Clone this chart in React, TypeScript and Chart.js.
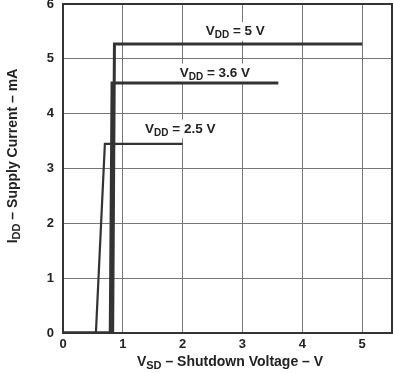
import React, { useEffect, useRef } from "react";
import { Chart, registerables } from "chart.js";

Chart.register(...registerables);

const xTicks = [0, 1, 2, 3, 4, 5];
const yTicks = [0, 1, 2, 3, 4, 5, 6];

const vsd25 = [0, 0.55, 0.7, 2.0];
const idd25 = [0, 0, 3.45, 3.45];
const vsd36 = [0, 0.79, 0.82, 3.6];
const idd36 = [0, 0, 4.56, 4.56];
const vsd50 = [0, 0.83, 0.86, 5.0];
const idd50 = [0, 0, 5.27, 5.27];

const seriesLabels = ["2.5 V", "3.6 V", "5 V"];
const labelX = [1.96, 2.54, 2.88];
const labelY = [3.72, 4.74, 5.5];

const FONT = "'Liberation Sans', Arial, sans-serif";

function drawSub(ctx: CanvasRenderingContext2D, parts: [string, boolean][], size: number, cx: number, cy: number, bg: boolean) {
  const subSize = Math.round(size * 0.75);
  let w = 0;
  for (const [t, sub] of parts) {
    ctx.font = `bold ${sub ? subSize : size}px ${FONT}`;
    w += ctx.measureText(t).width;
  }
  let x = cx - w / 2;
  if (bg) {
    ctx.fillStyle = "#ffffff";
    ctx.fillRect(x - 3, cy - size * 0.7, w + 6, size * 1.4);
  }
  ctx.fillStyle = "#222";
  ctx.textBaseline = "middle";
  ctx.textAlign = "left";
  for (const [t, sub] of parts) {
    ctx.font = `bold ${sub ? subSize : size}px ${FONT}`;
    ctx.fillText(t, x, sub ? cy + size * 0.3 : cy);
    x += ctx.measureText(t).width;
  }
}

const annotPlugin = {
  id: "annot",
  beforeDatasetsDraw(chart: any) {
    const { ctx, scales } = chart;
    ctx.save();
    for (let i = 0; i < seriesLabels.length; i++) {
      drawSub(ctx, [["V", false], ["DD", true], [" = " + seriesLabels[i], false]], 13.5,
        scales.x.getPixelForValue(labelX[i]), scales.y.getPixelForValue(labelY[i]), true);
    }
    ctx.restore();
  },
  afterDatasetsDraw(chart: any) {
    const { ctx, chartArea } = chart;
    ctx.save();
    ctx.strokeStyle = "#333";
    ctx.lineWidth = 2;
    ctx.strokeRect(chartArea.left, chartArea.top, chartArea.right - chartArea.left, chartArea.bottom - chartArea.top);
    // x title
    drawSub(ctx, [["V", false], ["SD", true], [" \u2013 Shutdown Voltage \u2013 V", false]], 14,
      230, 362, false);
    // y title
    ctx.translate(13, 156);
    ctx.rotate(-Math.PI / 2);
    drawSub(ctx, [["I", false], ["DD", true], [" \u2013 Supply Current \u2013 mA", false]], 14, 0, 0, false);
    ctx.restore();
  },
};

export default function App() {
  const ref = useRef<HTMLCanvasElement>(null);
  useEffect(() => {
    document.body.style.margin = "0";
    const mk = (xs: number[], ys: number[], w: number) => ({
      data: xs.map((x, i) => ({ x, y: ys[i] })),
      borderColor: "#333",
      borderWidth: w,
      pointRadius: 0,
      fill: false,
      tension: 0,
    });
    const chart = new Chart(ref.current!, {
      type: "line",
      data: {
        datasets: [mk(vsd25, idd25, 2.2), mk(vsd36, idd36, 3), mk(vsd50, idd50, 3)],
      },
      options: {
        animation: false,
        responsive: false,
        layout: { padding: { left: 0, right: 1, top: 4, bottom: 0 } },
        plugins: { legend: { display: false }, tooltip: { enabled: false } },
        scales: {
          x: {
            type: "linear",
            min: 0,
            max: 5.5,
            afterFit: (s: any) => { s.height = 40; s.paddingLeft = 0; s.paddingRight = 0; },
            afterBuildTicks: (s: any) => { s.ticks = xTicks.map((v) => ({ value: v })); },
            grid: { color: "#777", lineWidth: 1, drawTicks: false },
            border: { display: false },
            ticks: { color: "#222", font: { family: FONT, size: 13, weight: "bold" }, padding: 4, maxRotation: 0 },
          },
          y: {
            type: "linear",
            min: 0,
            max: 6,
            afterFit: (s: any) => { s.width = 63; s.paddingTop = 0; s.paddingBottom = 0; },
            afterBuildTicks: (s: any) => { s.ticks = yTicks.map((v) => ({ value: v })); },
            grid: { color: "#777", lineWidth: 1, drawTicks: false },
            border: { display: false },
            ticks: { color: "#222", font: { family: FONT, size: 13, weight: "bold" }, padding: 9 },
          },
        },
      },
      plugins: [annotPlugin],
    });
    return () => chart.destroy();
  }, []);
  return <canvas ref={ref} width={393} height={373} style={{ display: "block" }} />;
}
